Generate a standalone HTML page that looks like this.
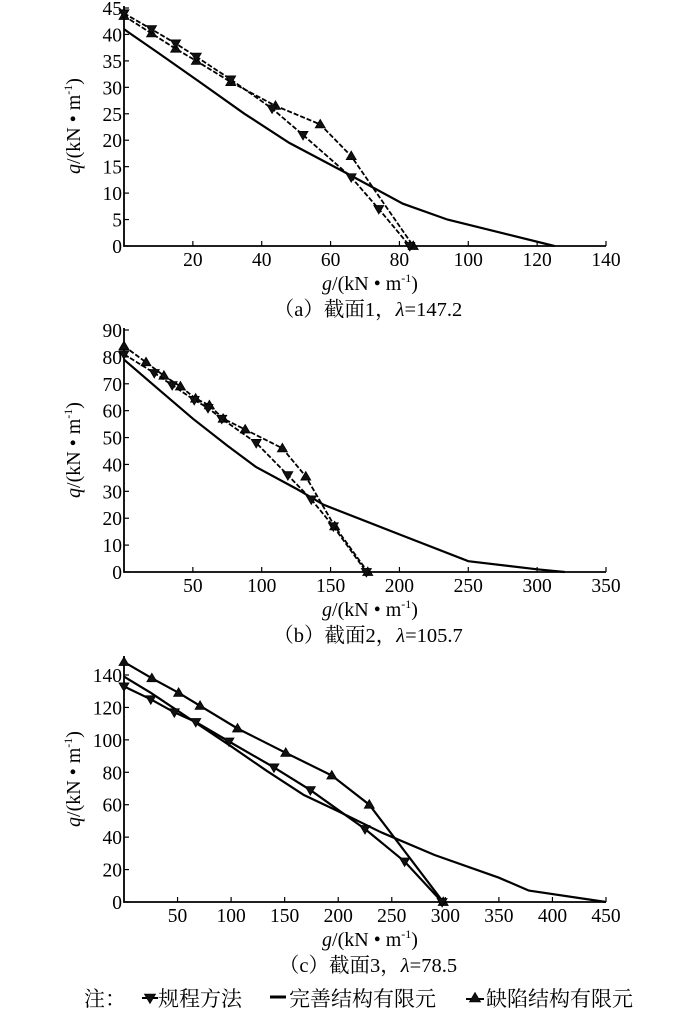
<!DOCTYPE html>
<html><head><meta charset="utf-8">
<style>
html,body{margin:0;padding:0;background:#fff;}
svg{display:block;font-family:"Liberation Serif","Noto Serif CJK SC",serif;}
</style></head>
<body>
<svg id="root" width="700" height="1010" viewBox="0 0 700 1010" xmlns="http://www.w3.org/2000/svg"></svg>
<script>
// Chart (a)
const aCodeG=[0,8,15,21,31,43,52,66,74,83];
const aCodeQ=[44,41,38.3,35.8,31.5,26,21,13,7,0];
const aDefG=[0,8,15,21,31,44,57,66,84];
const aDefQ=[43.5,40.2,37.3,35,31,26.5,23,17,0];
const aPerG=[0,10,22,35,48,64,81,94,125];
const aPerQ=[41,36.5,31,25,19.5,14,8,5,0];
const aXTicks=[20,40,60,80,100,120,140];
const aYTicks=[0,5,10,15,20,25,30,35,40,45];
// Chart (b)
const bCodeG=[0,22,35,51,61,71,96,119,136,152,176];
const bCodeQ=[81,74,69.5,64,61,57,48,36,27,17,0];
const bDefG=[0,16,29,41,52,62,72,88,115,132,153,177];
const bDefQ=[84,78,73,69,64.5,62,57,53,46,35.5,17,0];
const bPerG=[0,25,50,75,96,125,145,200,250,300,320];
const bPerQ=[79,68,57,47,39,31,25,14,4,1,0];
const bXTicks=[50,100,150,200,250,300,350];
const bYTicks=[0,10,20,30,40,50,60,70,80,90];
// Chart (c)
const cCodeG=[0,25,47,67,98,140,174,225,262,297];
const cCodeQ=[133,125,117,111,99,83,69,45,25,0];
const cDefG=[0,26,51,71,106,151,194,229,298];
const cDefQ=[148,138,129,121,107,92,78,60,0];
const cPerG=[0,25,50,75,100,133,168,200,240,290,350,378,450];
const cPerQ=[139,129,118,107,96,81,66,56,43,29,15,7,0];
const cXTicks=[50,100,150,200,250,300,350,400,450];
const cYTicks=[0,20,40,60,80,100,120,140];

const NS="http://www.w3.org/2000/svg";
const root=document.getElementById('root');
function mk(tag,attrs,parent,text){const e=document.createElementNS(NS,tag);for(const k in attrs)e.setAttribute(k,attrs[k]);if(text!==undefined)e.textContent=text;(parent||root).appendChild(e);return e;}

function tri(g,x,y,down,s){
  const h=s;const pts=down?`${x-s},${y-h*0.7} ${x+s},${y-h*0.7} ${x},${y+h}`:`${x-s},${y+h*0.7} ${x+s},${y+h*0.7} ${x},${y-h}`;
  return mk('polygon',{points:pts,fill:'#111',stroke:'#000','stroke-width':0.8},g);
}

function chart(id,cfg){
  const g=mk('g',{});
  
  
  const X=v=>cfg.x0+(v/cfg.xMax)*(cfg.x1-cfg.x0);
  const Y=v=>cfg.y0-(v/cfg.yMax)*(cfg.y0-cfg.y1);
  const ax=mk('path',{d:`M${cfg.x0},${cfg.yTop} L${cfg.x0},${cfg.y0} L${cfg.x1},${cfg.y0}`,fill:'none',stroke:'#000','stroke-width':1.8},g);
  
  
  cfg.xt.forEach(t=>{
    mk('line',{x1:X(t),y1:cfg.y0,x2:X(t),y2:cfg.y0-5,stroke:'#000','stroke-width':1.2},g);
    const tl=mk('text',{x:X(t),y:cfg.y0+20,'font-size':19.5,'text-anchor':'middle'},g,String(t));
    
    
  });
  cfg.yt.forEach(t=>{
    mk('line',{x1:cfg.x0,y1:Y(t),x2:cfg.x0+5,y2:Y(t),stroke:'#000','stroke-width':1.2},g);
    const tl=mk('text',{x:cfg.x0-2,y:Y(t)+7,'font-size':19.5,'text-anchor':'end'},g,String(t));
    
    
  });
  const series=[[cfg.per[0],cfg.per[1],null,'perfect-fe-line'],[cfg.def[0],cfg.def[1],false,'defect-fe-line'],[cfg.code[0],cfg.code[1],true,'code-method-line']];
  series.forEach(([gs,qs,m,name])=>{
    const d=gs.map((v,i)=>(i?'L':'M')+X(v).toFixed(1)+','+Y(qs[i]).toFixed(1)).join(' ');
    const p=mk('path',{d,fill:'none',stroke:'#000','stroke-width':m===null?2.2:(cfg.solid?2.2:1.8)},g);
    if(m!==null&&!cfg.solid)p.setAttribute('stroke-dasharray','5,2');
    
    
    if(m!==null){gs.forEach((v,i)=>{const t=tri(g,X(v),Y(qs[i]),m,5);
      
      });}
  });
  const xl=mk('text',{x:(cfg.x0+cfg.x1)/2+5,y:cfg.y0+44,'font-size':20,'text-anchor':'middle'},g);
  xl.innerHTML='<tspan font-style="italic">g</tspan>/(kN • m<tspan font-size="12" dy="-8">-1</tspan><tspan dy="8">)</tspan>';
  
  
  const cy=(cfg.yTop+cfg.y0)/2;
  const yl=mk('text',{x:0,y:0,'font-size':20,'text-anchor':'middle',transform:`translate(${cfg.x0-44},${cy}) rotate(-90)`},g);
  yl.innerHTML='<tspan font-style="italic">q</tspan>/(kN • m<tspan font-size="12" dy="-8">-1</tspan><tspan dy="8">)</tspan>';
  
  
  const cap=mk('text',{x:cfg.capX,y:cfg.y0+70,'font-size':20.5,'text-anchor':'middle'},g);
  cap.innerHTML=cfg.cap;
  
  
}
chart('chart-a',{x0:124,x1:606,y0:246,y1:8,yTop:6,xMax:140,yMax:45,xt:aXTicks,yt:aYTicks,code:[aCodeG,aCodeQ],def:[aDefG,aDefQ],per:[aPerG,aPerQ],cap:'（a）截面1，<tspan font-style="italic">λ</tspan>=147.2',capX:368});
chart('chart-b',{x0:124,x1:606,y0:572,y1:330,yTop:328,xMax:350,yMax:90,xt:bXTicks,yt:bYTicks,code:[bCodeG,bCodeQ],def:[bDefG,bDefQ],per:[bPerG,bPerQ],cap:'（b）截面2，<tspan font-style="italic">λ</tspan>=105.7',capX:368});
chart('chart-c',{x0:124,x1:606,y0:902,y1:675,yTop:656,xMax:450,yMax:140,xt:cXTicks,yt:cYTicks,code:[cCodeG,cCodeQ],def:[cDefG,cDefQ],per:[cPerG,cPerQ],cap:'（c）截面3，<tspan font-style="italic">λ</tspan>=78.5',solid:true,capX:368});

const lg=mk('g',{});


mk('text',{x:84,y:1006,'font-size':21},lg,'注：');
const e1=mk('g',{},lg);


mk('line',{x1:142,y1:998,x2:158,y2:998,stroke:'#000','stroke-width':2},e1);
tri(e1,150,998,true,5.5);
mk('text',{x:158,y:1006,'font-size':21},e1,'规程方法');
const e2=mk('g',{},lg);


mk('line',{x1:270,y1:997,x2:286,y2:997,stroke:'#000','stroke-width':3},e2);
mk('text',{x:289,y:1006,'font-size':21},e2,'完善结构有限元');
const e3=mk('g',{},lg);


mk('line',{x1:466,y1:999,x2:484,y2:999,stroke:'#000','stroke-width':2},e3);
tri(e3,475,998,false,5.5);
mk('text',{x:486,y:1006,'font-size':21},e3,'缺陷结构有限元');
</script>
</body></html>
